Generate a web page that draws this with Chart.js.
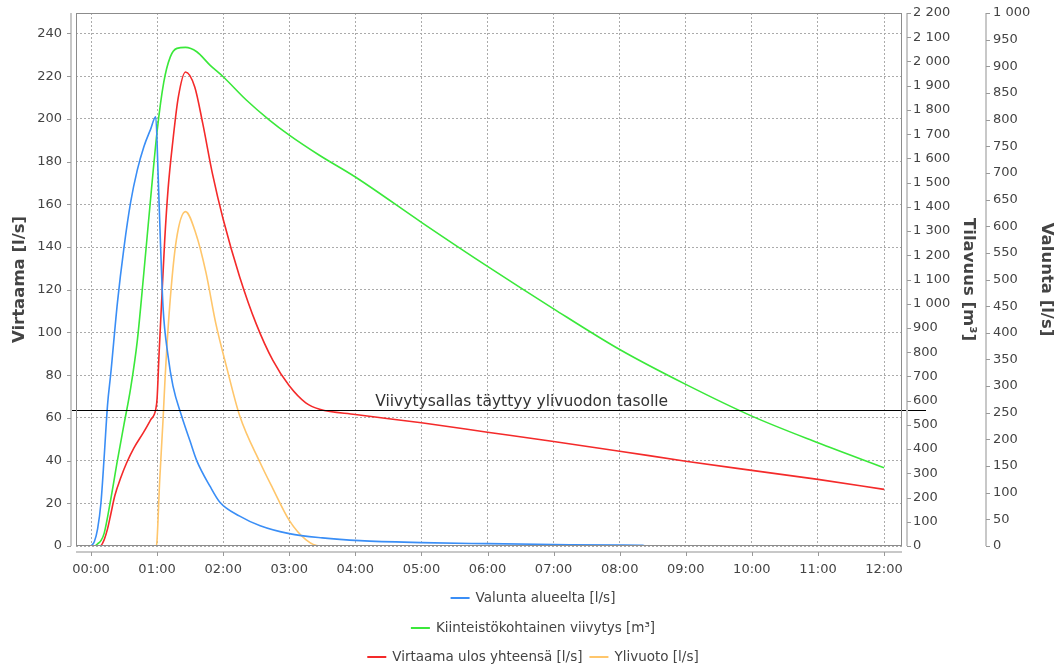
<!DOCTYPE html>
<html>
<head>
<meta charset="utf-8">
<title>Viivytys</title>
<script src="https://cdn.jsdelivr.net/npm/chart.js@4.4.1/dist/chart.umd.min.js"></script>
<style>
  body { margin: 0; background: #fff; }
  canvas { display: block; }
</style>
</head>
<body>
<canvas id="canvas" width="1060" height="668"></canvas>
<script>
// time in hours from start
var runoffHours = [0, 0.05, 0.1, 0.15, 0.2, 0.25, 0.3, 0.4, 0.5, 0.6, 0.7, 0.8, 0.9, 0.98, 1.015, 1.05, 1.09, 1.166, 1.24, 1.37, 1.5, 1.6, 1.8, 1.95, 2.25, 2.56, 3.0, 3.5, 4.07, 5, 6, 7, 8, 8.35, 8.4, 12];
var runoffFlow = [0, 2, 8, 20, 42, 66, 81, 114, 140, 161, 176, 187, 195, 201, 174.5, 143, 112, 89, 75, 61, 49, 40, 28, 20.5, 14, 9.5, 5.8, 3.8, 2.5, 1.6, 1.1, 0.7, 0.4, 0.3, 0, 0];

var storageHours = [0, 0.05, 0.1, 0.15, 0.2, 0.3, 0.4, 0.5, 0.6, 0.7, 0.8, 0.9, 1.0, 1.1, 1.2, 1.3, 1.43, 1.6, 1.8, 2.0, 2.35, 2.7, 3.0, 3.45, 4, 5, 6, 7, 8, 9, 10, 11, 12];
var storageVolume = [0, 0, 9, 22, 53, 194, 353, 503, 652, 846, 1129, 1428, 1711, 1913, 2019, 2054, 2058, 2040, 1985, 1937, 1841, 1758, 1696, 1614, 1523, 1336, 1154, 979, 811, 667, 536, 426, 323];

var outflowHours = [0, 0.14, 0.2, 0.25, 0.3, 0.36, 0.45, 0.54, 0.65, 0.79, 0.9, 0.98, 1.0, 1.03, 1.065, 1.115, 1.166, 1.24, 1.32, 1.43, 1.57, 1.69, 1.84, 2.0, 2.25, 2.5, 2.75, 3.0, 3.25, 3.46, 4, 5, 6, 7, 8, 9, 10, 11, 12];
var outflowTotal = [0, 0, 3, 8, 15, 23.5, 32, 39, 46, 53, 59, 64, 69, 90, 112, 143, 167, 190, 210, 222, 215, 198, 174, 153, 126, 104, 87, 75, 67, 64, 61.6, 57.7, 53.3, 48.9, 44.4, 39.7, 35.4, 31.2, 26.5];

var overflowHours = [0, 0.99, 1.0, 1.04, 1.09, 1.12, 1.19, 1.29, 1.43, 1.59, 1.74, 1.89, 2.05, 2.25, 2.56, 2.75, 3.0, 3.25, 3.46, 12];
var overflowFlow = [0, 0, 3, 31, 59, 78, 112, 143, 156.6, 146, 128, 104, 84, 61, 39, 27, 12, 3, 0, 0];

var hourTicks = [0, 1, 2, 3, 4, 5, 6, 7, 8, 9, 10, 11, 12];
var thresholdFlow = 63.7;
var thresholdText = 'Viivytysallas täyttyy ylivuodon tasolle';
var thresholdTextHour = 4.3;

var FONT = "'DejaVu Sans', Verdana, sans-serif";
var TEXT = '#444444';

function points(xs, ys) {
  return xs.map(function (x, i) { return { x: x, y: ys[i] }; });
}
function spaced(v) {
  return String(v).replace(/\B(?=(\d{3})+(?!\d))/g, ' ');
}
function hhmm(v) {
  return (v < 10 ? '0' : '') + v + ':00';
}
// fixed width for a vertical axis, and no extra padding above/below the plot
function fitWidth(w) {
  return function (s) { s.width = w; s.paddingTop = 0; s.paddingBottom = 0; };
}

var lineStyle = { borderWidth: 1.6, pointRadius: 0, fill: false, cubicInterpolationMode: 'monotone' };

var extras = {
  id: 'extras',
  afterDatasetsDraw: function (chart) {
    var ctx = chart.ctx, a = chart.chartArea, s = chart.scales;
    var yy = Math.round(s.y.getPixelForValue(thresholdFlow)) + 0.5;
    ctx.save();
    ctx.strokeStyle = '#000';
    ctx.lineWidth = 1.2;
    ctx.beginPath();
    ctx.moveTo(a.left - 5, yy);
    ctx.lineTo(a.right + 24, yy);
    ctx.stroke();
    ctx.fillStyle = '#333';
    ctx.font = '15.5px ' + FONT;
    ctx.textAlign = 'left';
    ctx.textBaseline = 'alphabetic';
    ctx.fillText(thresholdText, s.x.getPixelForValue(thresholdTextHour), yy - 5);
    ctx.restore();
  },
  afterDraw: function (chart) {
    var ctx = chart.ctx, a = chart.chartArea, s = chart.scales;
    ctx.save();
    // plot outline
    ctx.strokeStyle = '#8c8c8c';
    ctx.lineWidth = 1;
    ctx.strokeRect(a.left + 0.5, a.top + 0.5, a.right - a.left - 1, a.bottom - a.top - 1);

    // axis lines set off from the plot, with tick marks
    function vAxis(scale, x, dir) {
      ctx.strokeStyle = '#c8c8c8';
      ctx.lineWidth = 2;
      ctx.beginPath(); ctx.moveTo(x, a.top); ctx.lineTo(x, a.bottom); ctx.stroke();
      ctx.strokeStyle = '#999';
      ctx.lineWidth = 1;
      scale.ticks.forEach(function (t) {
        var py = Math.round(scale.getPixelForValue(t.value)) + 0.5;
        ctx.beginPath(); ctx.moveTo(x, py); ctx.lineTo(x + dir * 4, py); ctx.stroke();
      });
    }
    vAxis(s.y, a.left - 5, -1);
    vAxis(s.y2, s.y2.left + 5, 1);
    vAxis(s.y3, s.y3.left + 5, 1);

    var ax = a.bottom + 6;
    ctx.strokeStyle = '#c8c8c8';
    ctx.lineWidth = 2;
    ctx.beginPath(); ctx.moveTo(a.left, ax); ctx.lineTo(a.right, ax); ctx.stroke();
    ctx.strokeStyle = '#999';
    ctx.lineWidth = 1;
    s.x.ticks.forEach(function (t) {
      var px = Math.round(s.x.getPixelForValue(t.value)) + 0.5;
      ctx.beginPath(); ctx.moveTo(px, ax); ctx.lineTo(px, ax + 4); ctx.stroke();
    });

    // legend, three centred rows like the original
    var rows = [[0], [1], [2, 3]];
    var rowY = [598, 628, 657];
    ctx.font = '13.5px ' + FONT;
    ctx.textBaseline = 'middle';
    ctx.textAlign = 'left';
    rows.forEach(function (row, r) {
      var widths = row.map(function (i) {
        return 25 + ctx.measureText(chart.data.datasets[i].label).width;
      });
      var total = widths.reduce(function (p, w) { return p + w; }, 0) + 7 * (row.length - 1);
      var x = 533 - total / 2;
      row.forEach(function (i, k) {
        var ds = chart.data.datasets[i];
        ctx.strokeStyle = ds.borderColor;
        ctx.lineWidth = 2;
        ctx.beginPath(); ctx.moveTo(x, rowY[r]); ctx.lineTo(x + 19, rowY[r]); ctx.stroke();
        ctx.fillStyle = TEXT;
        ctx.fillText(ds.label, x + 25, rowY[r]);
        x += widths[k] + 7;
      });
    });
    ctx.restore();
  }
};

var ctx = document.getElementById('canvas').getContext('2d');
var myChart = new Chart(ctx, {
  type: 'line',
  data: {
    datasets: [
      Object.assign({ label: 'Valunta alueelta [l/s]', data: points(runoffHours, runoffFlow), borderColor: '#3a8ef6', yAxisID: 'y' }, lineStyle),
      Object.assign({ label: 'Kiinteistökohtainen viivytys [m³]', data: points(storageHours, storageVolume), borderColor: '#3ae83a', yAxisID: 'y2' }, lineStyle),
      Object.assign({ label: 'Virtaama ulos yhteensä [l/s]', data: points(outflowHours, outflowTotal), borderColor: '#f42a2a', yAxisID: 'y' }, lineStyle),
      Object.assign({ label: 'Ylivuoto [l/s]', data: points(overflowHours, overflowFlow), borderColor: '#ffc66b', yAxisID: 'y' }, lineStyle)
    ]
  },
  options: {
    responsive: false,
    animation: false,
    devicePixelRatio: 1,
    layout: { padding: { top: 13, bottom: 82, left: 0, right: 0 } },
    plugins: { legend: { display: false }, tooltip: { enabled: false } },
    scales: {
      x: {
        type: 'linear', min: -0.227, max: 12.272,
        afterBuildTicks: function (s) { s.ticks = hourTicks.map(function (v) { return { value: v }; }); },
        afterFit: function (s) { s.height = 40; },
        grid: { color: '#ababab', drawTicks: false },
        border: { display: false, dash: [2, 2] },
        ticks: { padding: 16, color: TEXT, font: { family: FONT, size: 13 }, callback: hhmm, autoSkip: false, maxRotation: 0 }
      },
      y: {
        position: 'left', min: 0, max: 249.6,
        afterBuildTicks: function (s) { s.ticks = s.ticks.filter(function (t) { return t.value % 20 === 0; }); },
        afterFit: fitWidth(76),
        grid: { color: '#ababab', drawTicks: false },
        border: { display: false, dash: [2, 2] },
        ticks: { stepSize: 20, padding: 14, color: TEXT, font: { family: FONT, size: 13 }, autoSkip: false },
        title: { display: true, text: 'Virtaama [l/s]', color: TEXT, font: { family: FONT, size: 16.5, weight: 'bold' }, padding: { top: 10, bottom: 0 } }
      },
      y2: {
        position: 'right', weight: 0, min: 0, max: 2200,
        afterFit: fitWidth(79),
        grid: { display: false, drawTicks: false },
        border: { display: false },
        ticks: { stepSize: 100, padding: 11, color: TEXT, font: { family: FONT, size: 13 }, autoSkip: false, callback: spaced },
        title: { display: true, text: 'Tilavuus [m³]', color: TEXT, font: { family: FONT, size: 16.5, weight: 'bold' }, padding: { top: 3, bottom: 0 } }
      },
      y3: {
        position: 'right', weight: 1, min: 0, max: 1000,
        afterFit: fitWidth(79),
        grid: { display: false, drawTicks: false },
        border: { display: false },
        ticks: { stepSize: 50, padding: 12, color: TEXT, font: { family: FONT, size: 13 }, autoSkip: false, callback: spaced },
        title: { display: true, text: 'Valunta [l/s]', color: TEXT, font: { family: FONT, size: 16.5, weight: 'bold' }, padding: { top: 4, bottom: 0 } }
      }
    }
  },
  plugins: [extras]
});
</script>
</body>
</html>
